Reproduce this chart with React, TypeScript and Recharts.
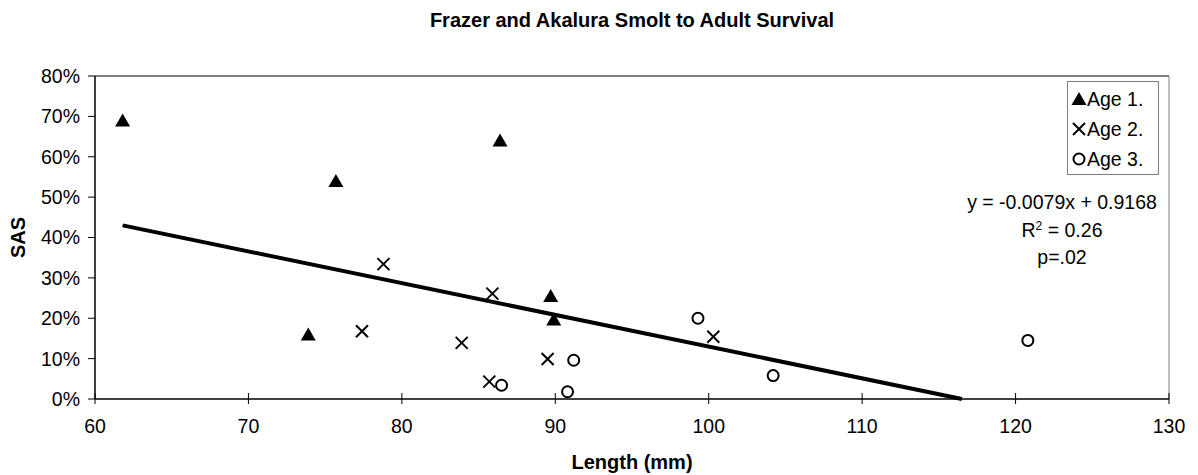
import React from 'react';
import { ScatterChart, Scatter, XAxis, YAxis, ReferenceLine, Legend } from 'recharts';

// smolt length (mm) vs smolt-to-adult survival, by freshwater age
const age1 = [
  { len: 61.8, sas: 0.69 },
  { len: 73.9, sas: 0.16 },
  { len: 75.7, sas: 0.54 },
  { len: 86.4, sas: 0.64 },
  { len: 89.7, sas: 0.255 },
  { len: 89.9, sas: 0.197 },
];
const age2 = [
  { len: 77.4, sas: 0.168 },
  { len: 78.8, sas: 0.334 },
  { len: 83.9, sas: 0.139 },
  { len: 85.7, sas: 0.043 },
  { len: 85.9, sas: 0.261 },
  { len: 89.5, sas: 0.099 },
  { len: 100.3, sas: 0.154 },
];
const age3 = [
  { len: 86.5, sas: 0.034 },
  { len: 90.8, sas: 0.018 },
  { len: 91.2, sas: 0.096 },
  { len: 99.3, sas: 0.2 },
  { len: 104.2, sas: 0.058 },
  { len: 120.8, sas: 0.145 },
];

// linear trend end points, as drawn (y = -0.0079x + 0.9168)
const trend = [
  { len: 61.8, sas: 0.43 },
  { len: 116.5, sas: 0 },
];

const xTicks = [60, 70, 80, 90, 100, 110, 120, 130];
const yTicks = [0, 0.1, 0.2, 0.3, 0.4, 0.5, 0.6, 0.7, 0.8];
const seriesNames = ['Age 1.', 'Age 2.', 'Age 3.'];
const statLines = ['y = -0.0079x + 0.9168', 'R2 = 0.26', 'p=.02'];

const FONT = '"Liberation Sans", Arial, sans-serif';
const TXT = 19.5;

const Triangle = ({ cx, cy }: any) => (
  <polygon points={`${cx},${cy - 7} ${cx - 7.5},${cy + 6} ${cx + 7.5},${cy + 6}`} fill="#000" />
);

const Cross = ({ cx, cy }: any) => (
  <g stroke="#000" strokeWidth={2}>
    <line x1={cx - 6} y1={cy - 6} x2={cx + 6} y2={cy + 6} />
    <line x1={cx - 6} y1={cy + 6} x2={cx + 6} y2={cy - 6} />
  </g>
);

const Ring = ({ cx, cy }: any) => (
  <circle cx={cx} cy={cy} r={5.5} fill="#fff" stroke="#000" strokeWidth={2} />
);

const shapes = [Triangle, Cross, Ring];

const XTick = (props: any) => {
  const { x, y, payload } = props;
  return (
    <g>
      <line x1={x} x2={x} y1={y - 6} y2={y + 5} stroke="#000" />
      <text x={x} y={y + 34} textAnchor="middle" fontSize={TXT} fontFamily={FONT} fill="#000">
        {payload.value}
      </text>
    </g>
  );
};

const LegendBox = () => (
  <div
    style={{
      border: '1px solid #808080',
      background: '#fff',
      boxSizing: 'border-box',
      width: 92,
      height: 94,
      padding: '2px 0 0 2px',
      fontFamily: FONT,
      fontSize: TXT,
      color: '#000',
    }}
  >
    {seriesNames.map((name, i) => {
      const Shape = shapes[i];
      return (
        <div key={name} style={{ display: 'flex', alignItems: 'center', height: 30, whiteSpace: 'nowrap' }}>
          <svg width={17} height={16}>
            <Shape cx={9} cy={8} />
          </svg>
          <span>{name}</span>
        </div>
      );
    })}
  </div>
);

export default function App() {
  return (
    <div style={{ position: 'absolute', left: 0, top: 0, width: 1198, height: 475, background: '#fff' }}>
      <ScatterChart
        width={1198}
        height={475}
        margin={{ top: 76, right: 29, bottom: 75, left: 94 }}
        style={{ fontFamily: FONT }}
      >
        <XAxis
          type="number"
          dataKey="len"
          domain={[60, 130]}
          ticks={xTicks}
          height={1}
          tickSize={0}
          tickMargin={0}
          tickLine={false}
          tick={<XTick />}
          axisLine={{ stroke: '#000', strokeWidth: 1.5 }}
          allowDataOverflow
        />
        <YAxis
          type="number"
          dataKey="sas"
          domain={[0, 0.8]}
          ticks={yTicks}
          width={1}
          tickSize={7}
          tickMargin={8}
          tickFormatter={(v: number) => `${Math.round(v * 100)}%`}
          tick={{ fill: '#000', fontSize: TXT, fontFamily: FONT }}
          tickLine={{ stroke: '#000' }}
          axisLine={{ stroke: '#000', strokeWidth: 1.5 }}
          allowDataOverflow
        />
        <ReferenceLine y={0.8} stroke="#000" strokeWidth={1} />
        <ReferenceLine x={130} stroke="#808080" strokeWidth={1} />
        <ReferenceLine
          segment={[
            { x: trend[0].len, y: trend[0].sas },
            { x: trend[1].len, y: trend[1].sas },
          ]}
          stroke="#000"
          strokeWidth={4}
        />
        <Scatter name={seriesNames[0]} data={age1} shape={<Triangle />} isAnimationActive={false} />
        <Scatter name={seriesNames[1]} data={age2} shape={<Cross />} isAnimationActive={false} />
        <Scatter name={seriesNames[2]} data={age3} shape={<Ring />} isAnimationActive={false} />
        <Legend
          layout="vertical"
          align="center"
          verticalAlign="middle"
          content={<LegendBox />}
          wrapperStyle={{ left: 1067, top: 81, width: 92, height: 94, right: 'auto', bottom: 'auto' }}
        />
        <text x={632} y={27} textAnchor="middle" fontSize={20} fontWeight="bold" fontFamily={FONT} fill="#000">
          Frazer and Akalura Smolt to Adult Survival
        </text>
        <text x={632} y={469} textAnchor="middle" fontSize={20} fontWeight="bold" fontFamily={FONT} fill="#000">
          Length (mm)
        </text>
        <text
          x={25}
          y={237.5}
          transform="rotate(-90 25 237.5)"
          textAnchor="middle"
          fontSize={20}
          fontWeight="bold"
          fontFamily={FONT}
          fill="#000"
        >
          SAS
        </text>
        <g fontSize={TXT} fontFamily={FONT} fill="#000" textAnchor="middle">
          <text x={1062} y={209}>{statLines[0]}</text>
          <text x={1062} y={237}>
            R<tspan dy={-7} fontSize={12}>2</tspan>
            <tspan dy={7}>{statLines[1].slice(2)}</tspan>
          </text>
          <text x={1062} y={264}>{statLines[2]}</text>
        </g>
      </ScatterChart>
    </div>
  );
}
